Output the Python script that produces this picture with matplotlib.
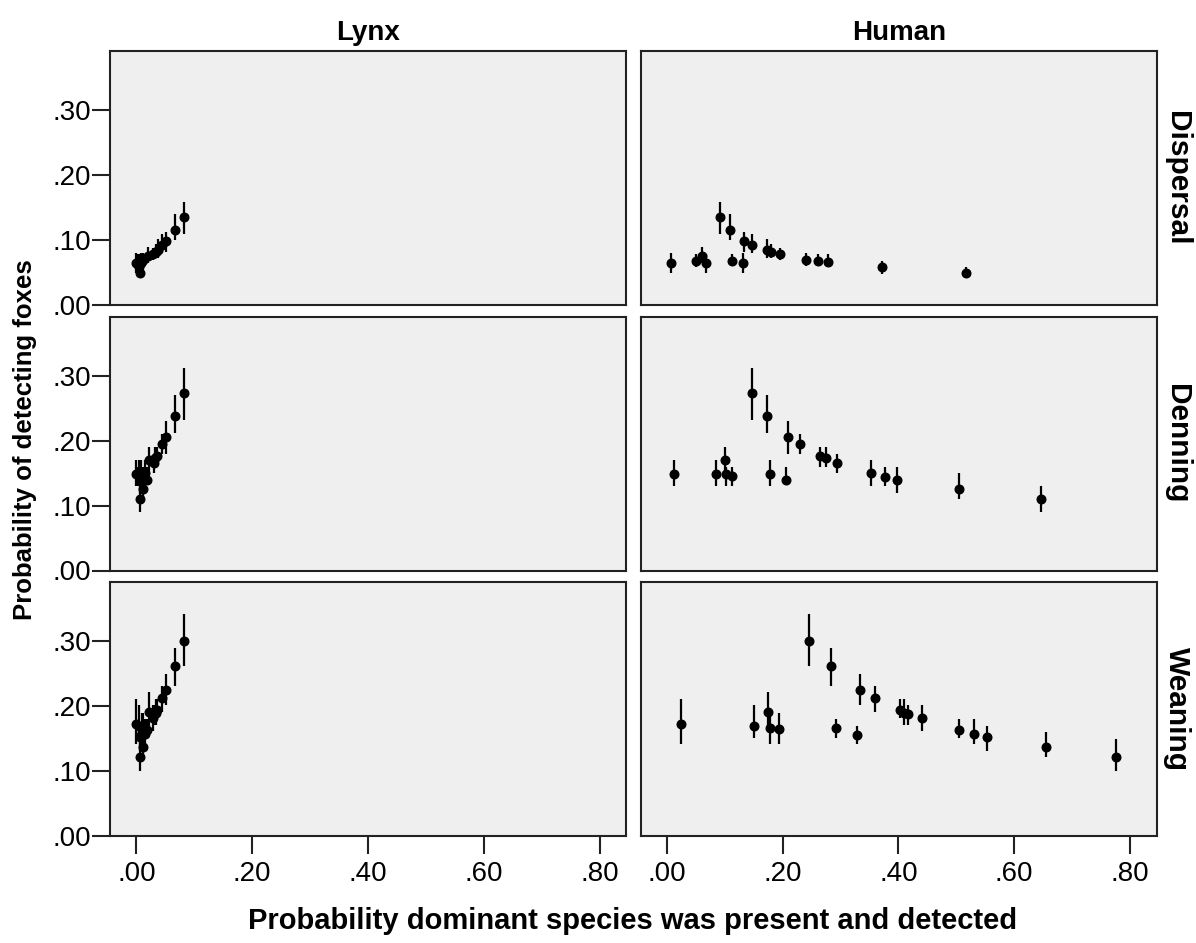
import numpy as np
import matplotlib.pyplot as plt

plt.rcParams['font.family'] = ['Liberation Sans', 'DejaVu Sans']

col_titles = ['Lynx', 'Human']
row_titles = ['Dispersal', 'Denning', 'Weaning']
x_ticks = [0.0, 0.2, 0.4, 0.6, 0.8]
y_ticks = [0.0, 0.1, 0.2, 0.3]

# Dispersal
disp_human_x = [0.008, 0.051, 0.061, 0.068, 0.092, 0.109, 0.113, 0.132, 0.134, 0.148,
                0.173, 0.180, 0.195, 0.240, 0.261, 0.278, 0.372, 0.517]
disp_lynx_x = [0.000, 0.004, 0.020, 0.003, 0.083, 0.067, 0.010, 0.008, 0.051, 0.045,
               0.038, 0.034, 0.029, 0.012, 0.006, 0.002, 0.004, 0.006]
disp_y = [0.065, 0.067, 0.075, 0.065, 0.135, 0.115, 0.068, 0.065, 0.098, 0.092,
          0.084, 0.082, 0.078, 0.070, 0.068, 0.066, 0.058, 0.050]
disp_lo = [0.050, 0.058, 0.065, 0.050, 0.110, 0.100, 0.060, 0.050, 0.082, 0.080,
           0.072, 0.072, 0.070, 0.060, 0.060, 0.060, 0.048, 0.043]
disp_hi = [0.080, 0.078, 0.090, 0.078, 0.159, 0.140, 0.078, 0.080, 0.112, 0.109,
           0.102, 0.094, 0.088, 0.080, 0.078, 0.078, 0.068, 0.058]

# Denning
den_human_x = [0.013, 0.085, 0.101, 0.103, 0.113, 0.147, 0.173, 0.179, 0.206, 0.210,
               0.230, 0.265, 0.275, 0.294, 0.352, 0.376, 0.397, 0.504, 0.647]
den_lynx_x = [0.000, 0.004, 0.0225, 0.002, 0.010, 0.083, 0.067, 0.008, 0.018, 0.051,
              0.045, 0.036, 0.033, 0.030, 0.015, 0.012, 0.006, 0.012, 0.006]
den_y = [0.148, 0.149, 0.170, 0.148, 0.146, 0.273, 0.238, 0.149, 0.140, 0.205,
         0.194, 0.177, 0.173, 0.166, 0.150, 0.144, 0.140, 0.125, 0.110]
den_lo = [0.130, 0.130, 0.150, 0.130, 0.130, 0.231, 0.211, 0.130, 0.131, 0.180,
          0.180, 0.160, 0.160, 0.150, 0.130, 0.130, 0.120, 0.110, 0.090]
den_hi = [0.170, 0.170, 0.190, 0.160, 0.160, 0.311, 0.270, 0.170, 0.160, 0.230,
          0.210, 0.190, 0.190, 0.180, 0.170, 0.160, 0.160, 0.150, 0.130]

# Weaning
wean_human_x = [0.025, 0.150, 0.174, 0.179, 0.193, 0.245, 0.283, 0.292, 0.328, 0.334,
                0.360, 0.403, 0.409, 0.417, 0.440, 0.505, 0.531, 0.553, 0.655, 0.775]
wean_lynx_x = [0.000, 0.004, 0.0225, 0.010, 0.012, 0.083, 0.067, 0.014, 0.008, 0.051,
               0.045, 0.036, 0.034, 0.031, 0.028, 0.018, 0.015, 0.006, 0.012, 0.006]
wean_y = [0.173, 0.170, 0.191, 0.167, 0.164, 0.300, 0.261, 0.166, 0.155, 0.225,
          0.212, 0.194, 0.190, 0.188, 0.181, 0.163, 0.157, 0.152, 0.137, 0.121]
wean_lo = [0.141, 0.151, 0.170, 0.141, 0.141, 0.262, 0.231, 0.151, 0.141, 0.201,
           0.191, 0.182, 0.171, 0.171, 0.161, 0.151, 0.141, 0.131, 0.121, 0.100]
wean_hi = [0.211, 0.201, 0.221, 0.189, 0.190, 0.341, 0.290, 0.180, 0.170, 0.250,
           0.231, 0.211, 0.211, 0.201, 0.201, 0.180, 0.180, 0.170, 0.160, 0.150]

rows = [
    (disp_lynx_x, disp_human_x, disp_y, disp_lo, disp_hi),
    (den_lynx_x, den_human_x, den_y, den_lo, den_hi),
    (wean_lynx_x, wean_human_x, wean_y, wean_lo, wean_hi),
]

W, H = 1196, 943
fig = plt.figure(figsize=(W / 100, H / 100), dpi=100)

col_left = [110.3, 640.7]
col_w = 516.0
row_bottom = [305, 570.5, 836]
row_h = 254

for r, (lx, hx, y, lo, hi) in enumerate(rows):
    y = np.array(y)
    yerr = [y - np.array(lo), np.array(hi) - y]
    for c, xs in enumerate([lx, hx]):
        ax = fig.add_axes([col_left[c] / W, (H - row_bottom[r]) / H, col_w / W, row_h / H])
        ax.set_facecolor('#efefef')
        ax.errorbar(xs, y, yerr=yerr, fmt='o', color='black', ms=6.2,
                    elinewidth=1.6, capsize=0)
        ax.set_xlim(-0.045, 0.846)
        ax.set_ylim(0, 0.391)
        for s in ax.spines.values():
            s.set_color('#222222')
            s.set_linewidth(1.5)
        ax.tick_params(direction='out', length=13, width=1.5, labelsize=20,
                       color='#222222')
        ax.tick_params(axis='y', pad=1)
        ax.tick_params(axis='x', pad=5)
        ax.set_xticks(x_ticks)
        ax.set_yticks(y_ticks)
        if r == 2:
            ax.set_xticklabels(['.%02d' % round(v * 100) for v in x_ticks])
        else:
            ax.tick_params(axis='x', length=0, labelbottom=False)
        if c == 0:
            ax.set_yticklabels(['.%02d' % round(v * 100) for v in y_ticks])
        else:
            ax.tick_params(axis='y', length=0, labelleft=False)
        if r == 0:
            ax.set_title(col_titles[c], fontsize=20, fontweight='bold', pad=8)
        if c == 1:
            ax.text(1.04, 0.5, row_titles[r], transform=ax.transAxes, rotation=270,
                    ha='center', va='center', fontsize=21.5, fontweight='bold')

fig.text(25 / W, 1 - 440 / H, 'Probability of detecting foxes', rotation=90,
         ha='center', va='center', fontsize=18.5, fontweight='bold')
fig.text(633 / W, 1 - 921 / H, 'Probability dominant species was present and detected',
         ha='center', va='center', fontsize=21, fontweight='bold')

fig.savefig('out.png', dpi=100)
